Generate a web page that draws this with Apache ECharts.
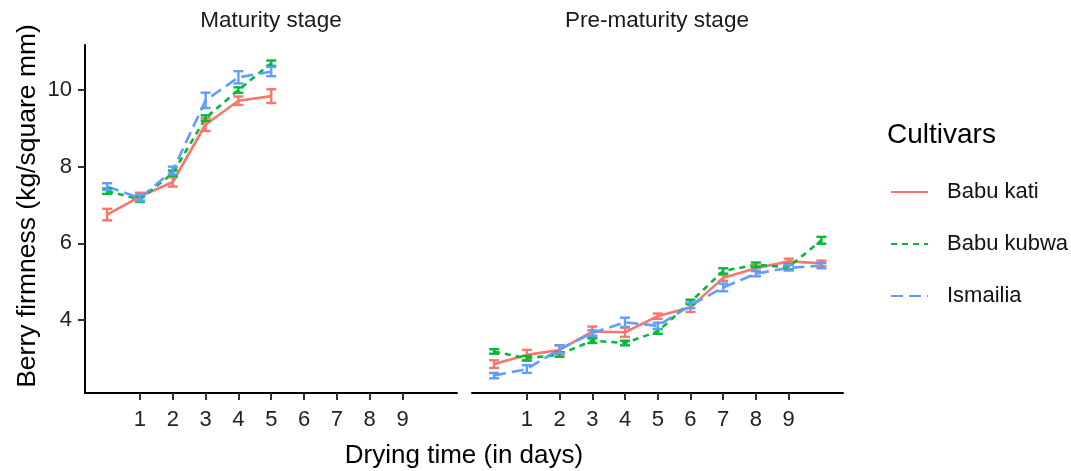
<!DOCTYPE html>
<html>
<head>
<meta charset="utf-8">
<script src="https://cdn.jsdelivr.net/npm/echarts@6/dist/echarts.min.js"></script>
<style>
  html, body { margin: 0; padding: 0; background: #fff; }
  #chart { width: 1071px; height: 471px; }
</style>
</head>
<body>
<div id="chart"></div>
<script>
// days on the x axis
const daysMaturity = [0, 1, 2, 3, 4, 5];
const daysPreMaturity = [0, 1, 2, 3, 4, 5, 6, 7, 8, 9, 10];
const xTicks = [1, 2, 3, 4, 5, 6, 7, 8, 9];
const yTicks = [4, 6, 8, 10];

const cultivars = ['Babu kati', 'Babu kubwa', 'Ismailia'];
const colors = ['#F8766D', '#00BA38', '#619CFF'];

// Maturity stage (mean firmness + error)
const katiMaturity = [6.75, 7.22, 7.6, 9.1, 9.72, 9.84];
const katiMaturityErr = [0.15, 0.1, 0.12, 0.17, 0.11, 0.18];
const kubwaMaturity = [7.36, 7.15, 7.83, 9.27, 10.0, 10.7];
const kubwaMaturityErr = [0.07, 0.07, 0.07, 0.07, 0.07, 0.07];
const ismailiaMaturity = [7.48, 7.18, 7.9, 9.73, 10.33, 10.48];
const ismailiaMaturityErr = [0.09, 0.08, 0.1, 0.2, 0.16, 0.12];

// Pre-maturity stage
const katiPre = [2.85, 3.09, 3.22, 3.7, 3.68, 4.1, 4.33, 5.1, 5.35, 5.53, 5.48];
const katiPreErr = [0.1, 0.13, 0.12, 0.13, 0.12, 0.07, 0.12, 0.08, 0.07, 0.07, 0.07];
const kubwaPre = [3.18, 3.0, 3.1, 3.46, 3.4, 3.7, 4.47, 5.28, 5.44, 5.38, 6.08];
const kubwaPreErr = [0.06, 0.06, 0.06, 0.06, 0.06, 0.06, 0.06, 0.07, 0.06, 0.06, 0.09];
const ismailiaPre = [2.55, 2.72, 3.24, 3.66, 3.94, 3.85, 4.38, 4.85, 5.21, 5.36, 5.42];
const ismailiaPreErr = [0.07, 0.1, 0.1, 0.07, 0.12, 0.08, 0.07, 0.1, 0.07, 0.07, 0.07];

const lineTypes = ['solid', [6, 5], [12, 6]];

const myChart = echarts.init(document.getElementById('chart'));

const pairs = (xs, ys) => xs.map((x, i) => [x, ys[i]]);
const errs = (xs, ys, es) => xs.map((x, i) => [x, ys[i] - es[i], ys[i] + es[i]]);

function lineSeries(idx, grid, xs, ys) {
    return {
        name: cultivars[idx],
        type: 'line',
        xAxisIndex: grid,
        yAxisIndex: grid,
        data: pairs(xs, ys),
        symbol: 'none',
        color: colors[idx],
        lineStyle: { color: colors[idx], width: 2.6, type: lineTypes[idx] },
        z: 3
    };
}

function errorSeries(idx, grid, xs, ys, es) {
    return {
        name: cultivars[idx] + ' se',
        type: 'custom',
        xAxisIndex: grid,
        yAxisIndex: grid,
        data: errs(xs, ys, es),
        encode: { x: 0, y: [1, 2] },
        z: 4,
        renderItem: function (params, api) {
            const x = api.value(0);
            const lo = api.coord([x, api.value(1)]);
            const hi = api.coord([x, api.value(2)]);
            const style = { stroke: colors[idx], lineWidth: 2.4 };
            return {
                type: 'group',
                children: [
                    { type: 'line', shape: { x1: lo[0], y1: lo[1], x2: hi[0], y2: hi[1] }, style: style },
                    { type: 'line', shape: { x1: lo[0] - 5, y1: lo[1], x2: lo[0] + 5, y2: lo[1] }, style: style },
                    { type: 'line', shape: { x1: hi[0] - 5, y1: hi[1], x2: hi[0] + 5, y2: hi[1] }, style: style }
                ]
            };
        }
    };
}

function xAxis(grid) {
    return {
        type: 'value',
        gridIndex: grid,
        min: -0.675,
        max: 10.66,
        axisLine: { show: true, onZero: false, lineStyle: { color: '#000', width: 2 } },
        axisTick: { show: true, customValues: xTicks, length: 7, lineStyle: { color: '#333', width: 2 } },
        axisLabel: { customValues: xTicks, fontSize: 22, color: '#222', margin: 16, fontFamily: 'Liberation Sans' },
        splitLine: { show: false }
    };
}

function yAxis(grid, visible) {
    return {
        type: 'value',
        gridIndex: grid,
        min: 2.096,
        max: 11.174,
        show: visible,
        axisLine: { show: true, onZero: false, lineStyle: { color: '#000', width: 2 } },
        axisTick: { show: true, customValues: yTicks, length: 7, lineStyle: { color: '#333', width: 2 } },
        axisLabel: { customValues: yTicks, fontSize: 22, color: '#222', margin: 13, fontFamily: 'Liberation Sans' },
        splitLine: { show: false }
    };
}

const option = {
    animation: false,
    textStyle: { fontFamily: 'Liberation Sans' },
    grid: [
        { left: 85, width: 372, top: 45, bottom: 78 },
        { left: 472, width: 371, top: 45, bottom: 78 }
    ],
    xAxis: [xAxis(0), xAxis(1)],
    yAxis: [yAxis(0, true), yAxis(1, false)],
    legend: {
        data: cultivars,
        orient: 'vertical',
        left: 890,
        top: 181,
        padding: 0,
        itemWidth: 37,
        itemHeight: 14,
        itemGap: 30,
        itemStyle: { opacity: 0 },
        textStyle: { fontSize: 22, lineHeight: 22, color: '#111', padding: [0, 0, 0, 14] }
    },
    graphic: [
        { type: 'text', x: 271, y: 21, style: { text: 'Maturity stage', font: '22.5px "Liberation Sans"', fill: '#1a1a1a', textAlign: 'center', textVerticalAlign: 'middle' } },
        { type: 'text', x: 657, y: 21, style: { text: 'Pre-maturity stage', font: '22.5px "Liberation Sans"', fill: '#1a1a1a', textAlign: 'center', textVerticalAlign: 'middle' } },
        { type: 'text', x: 464, y: 456, style: { text: 'Drying time (in days)', font: '26px "Liberation Sans"', fill: '#000', textAlign: 'center', textVerticalAlign: 'middle' } },
        { type: 'text', x: 28, y: 206, rotation: Math.PI / 2, style: { text: 'Berry firmness (kg/square mm)', font: '26.5px "Liberation Sans"', fill: '#000', textAlign: 'center', textVerticalAlign: 'middle' } },
        { type: 'text', x: 887, y: 135, style: { text: 'Cultivars', font: '28px "Liberation Sans"', fill: '#000', textAlign: 'left', textVerticalAlign: 'middle' } }
    ],
    series: [
        lineSeries(0, 0, daysMaturity, katiMaturity),
        lineSeries(1, 0, daysMaturity, kubwaMaturity),
        lineSeries(2, 0, daysMaturity, ismailiaMaturity),
        lineSeries(0, 1, daysPreMaturity, katiPre),
        lineSeries(1, 1, daysPreMaturity, kubwaPre),
        lineSeries(2, 1, daysPreMaturity, ismailiaPre),
        errorSeries(0, 0, daysMaturity, katiMaturity, katiMaturityErr),
        errorSeries(1, 0, daysMaturity, kubwaMaturity, kubwaMaturityErr),
        errorSeries(2, 0, daysMaturity, ismailiaMaturity, ismailiaMaturityErr),
        errorSeries(0, 1, daysPreMaturity, katiPre, katiPreErr),
        errorSeries(1, 1, daysPreMaturity, kubwaPre, kubwaPreErr),
        errorSeries(2, 1, daysPreMaturity, ismailiaPre, ismailiaPreErr)
    ]
};

myChart.setOption(option);

window.addEventListener('resize', function () {
    myChart.resize();
});
</script>
</body>
</html>
